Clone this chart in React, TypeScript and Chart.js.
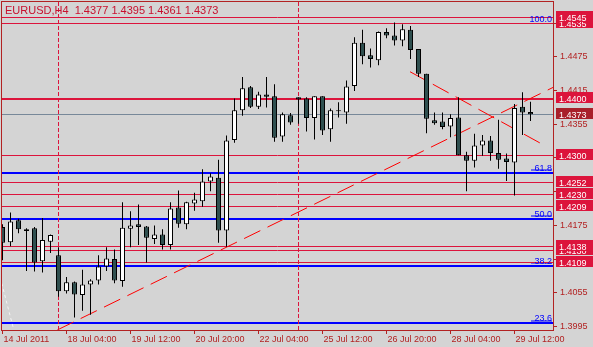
import { useEffect, useRef } from 'react';
import { Chart, registerables } from 'chart.js';

Chart.register(...registerables);

// ---- Data (EURUSD H4) ----
const OPEN = [
  1.4172, 1.4145, 1.4184, 1.4168, 1.4170, 1.4111, 1.4146, 1.4122, 1.4058, 1.4074,
  1.4051, 1.4070, 1.4077, 1.4102, 1.4115, 1.4076, 1.4169, 1.4177, 1.4173, 1.4151,
  1.4159, 1.4140, 1.4207, 1.4177, 1.4214, 1.4218, 1.4253, 1.4260, 1.4166, 1.4327,
  1.4380, 1.4421, 1.4386, 1.4408, 1.4405, 1.4333, 1.4371, 1.4403, 1.4401, 1.4366,
  1.4405, 1.4346, 1.4378, 1.4376, 1.4423, 1.4500, 1.4478, 1.4469, 1.4519, 1.4513,
  1.4504, 1.4523, 1.4489, 1.4445, 1.4362, 1.4360, 1.4351, 1.4367, 1.4300, 1.4290,
  1.4317, 1.4326, 1.4304, 1.4294, 1.4287, 1.4386, 1.4377,
];
const HIGH = [
  1.4177, 1.4198, 1.4187, 1.4170, 1.4172, 1.4188, 1.4159, 1.4136, 1.4083, 1.4075,
  1.4096, 1.4079, 1.4122, 1.4136, 1.4132, 1.4216, 1.4200, 1.4212, 1.4174, 1.4175,
  1.4168, 1.4216, 1.4237, 1.4217, 1.4233, 1.4275, 1.4268, 1.4292, 1.4335, 1.4401,
  1.4439, 1.4423, 1.4413, 1.4439, 1.4426, 1.4376, 1.4375, 1.4403, 1.4403, 1.4405,
  1.4405, 1.4383, 1.4394, 1.4433, 1.4510, 1.4523, 1.4490, 1.4520, 1.4526, 1.4536,
  1.4533, 1.4530, 1.4489, 1.4445, 1.4376, 1.4376, 1.4373, 1.4403, 1.4306, 1.4338,
  1.4336, 1.4334, 1.4363, 1.4303, 1.4391, 1.4412, 1.4395,
];
const LOW = [
  1.4113, 1.4138, 1.4161, 1.4094, 1.4093, 1.4091, 1.4126, 1.4048, 1.4054, 1.4011,
  1.4023, 1.4016, 1.4070, 1.4094, 1.4072, 1.4066, 1.4136, 1.4140, 1.4109, 1.4142,
  1.4132, 1.4132, 1.4171, 1.4168, 1.4201, 1.4208, 1.4236, 1.4144, 1.4137, 1.4322,
  1.4370, 1.4384, 1.4382, 1.4385, 1.4324, 1.4324, 1.4354, 1.4356, 1.4342, 1.4328,
  1.4336, 1.4324, 1.4367, 1.4356, 1.4414, 1.4462, 1.4456, 1.4460, 1.4508, 1.4495,
  1.4494, 1.4471, 1.4439, 1.4339, 1.4354, 1.4346, 1.4332, 1.4300, 1.4236, 1.4278,
  1.4299, 1.4290, 1.4276, 1.4254, 1.4228, 1.4336, 1.4361,
];
const CLOSE = [
  1.4144, 1.4182, 1.4168, 1.4165, 1.4109, 1.4149, 1.4158, 1.4058, 1.4074, 1.4052,
  1.4070, 1.4077, 1.4102, 1.4116, 1.4077, 1.4171, 1.4175, 1.4172, 1.4153, 1.4159,
  1.4140, 1.4205, 1.4178, 1.4216, 1.4221, 1.4253, 1.4262, 1.4166, 1.4326, 1.4380,
  1.4419, 1.4386, 1.4408, 1.4404, 1.4331, 1.4373, 1.4358, 1.4399, 1.4366, 1.4405,
  1.4344, 1.4380, 1.4378, 1.4422, 1.4500, 1.4476, 1.4471, 1.4519, 1.4513, 1.4504,
  1.4524, 1.4487, 1.4445, 1.4365, 1.4357, 1.4350, 1.4366, 1.4300, 1.4290, 1.4317,
  1.4326, 1.4304, 1.4292, 1.4288, 1.4384, 1.4376, 1.4373,
];

const X_TICK_INDEX = [0, 8, 16, 24, 32, 40, 48, 56, 64];
const X_TICK_LABELS = [
  '14 Jul 2011', '18 Jul 04:00', '19 Jul 12:00', '20 Jul 20:00', '22 Jul 04:00',
  '25 Jul 12:00', '26 Jul 20:00', '28 Jul 04:00', '29 Jul 12:00',
];
const Y_TICKS = [1.3995, 1.4055, 1.4115, 1.4175, 1.4235, 1.4295, 1.4355, 1.4415, 1.4475, 1.4535];

const RED_LEVELS = [1.4545, 1.4535, 1.4300, 1.4252, 1.4230, 1.4209, 1.4138, 1.4130, 1.4109];
const THICK_RED_LEVELS = [1.4400];
const FIB_NAMES = ['100.0', '61.8', '50.0', '38.2', '23.6'];
const FIB_LEVELS = [1.45343, 1.42683, 1.41864, 1.41028, 1.40013];
const PRICE_BOXES = [1.4535, 1.4545, 1.4400, 1.4300, 1.4252, 1.4230, 1.4209, 1.4130, 1.4138, 1.4109];
const V_LINES = [7, 37];
const UP_TREND = [[6.85, 1.39889], [68.85, 1.44208]];
const DOWN_TREND = [[50.94, 1.44485], [68.03, 1.43151]];
const WHITE_TREND = [[-0.1, 1.4072], [1.35, 1.39924]];

const X_MIN = -0.0625;
const X_MAX = 68.8125;
const Y_MIN = 1.398885;
const Y_MAX = 1.457436;

const BG = '#D4D4D4';
const AXIS = '#B22222';
const CRIMSON = '#DC143C';
const BLUE = '#0000FF';
const FONT = 'Liberation Sans';

const LAST = OPEN.length - 1;
const BID = CLOSE[LAST];
const TITLE = `EURUSD,H4  ${OPEN[LAST].toFixed(4)} ${HIGH[LAST].toFixed(4)} ${LOW[LAST].toFixed(4)} ${CLOSE[LAST].toFixed(4)}`;

const overlay = {
  id: 'overlay',
  beforeDraw(chart: any) {
    const { ctx, width, height } = chart;
    ctx.save();
    ctx.fillStyle = BG;
    ctx.fillRect(0, 0, width, height);
    ctx.restore();
  },
  beforeDatasetsDraw(chart: any) {
    const { ctx, chartArea: a, scales } = chart;
    const y = scales.y;
    ctx.save();
    ctx.beginPath();
    ctx.rect(a.left, a.top, a.right - a.left, a.bottom - a.top);
    ctx.clip();
    ctx.setLineDash([]);
    const hline = (p: number, color: string, w: number, x0 = a.left, x1 = a.right, dy = 0) => {
      const Y = y.getPixelForValue(p);
      const yy = (w % 2 ? Math.floor(Y) + 0.5 : Math.round(Y)) + dy;
      ctx.strokeStyle = color;
      ctx.lineWidth = w;
      ctx.beginPath();
      ctx.moveTo(x0, yy);
      ctx.lineTo(x1, yy);
      ctx.stroke();
    };
    FIB_LEVELS.forEach((p, i) => {
      hline(p, BLUE, i === 0 ? 1 : 2);
      if (i > 0) hline(p, BLUE, 1, a.right - 22, a.right - 1, -2.5);
    });
    RED_LEVELS.forEach((p) => hline(p, CRIMSON, 1));
    THICK_RED_LEVELS.forEach((p) => hline(p, CRIMSON, 2));
    hline(BID, '#778899', 1);
    ctx.restore();
  },
  afterDraw(chart: any) {
    const { ctx, chartArea: a, scales } = chart;
    const y = scales.y;
    ctx.save();
    // border
    ctx.strokeStyle = AXIS;
    ctx.lineWidth = 1;
    ctx.strokeRect(1.5, 1.5, a.right - 1, a.bottom - 1);
    // fib labels
    ctx.font = `9px "${FONT}"`;
    ctx.fillStyle = BLUE;
    ctx.textAlign = 'right';
    ctx.textBaseline = 'alphabetic';
    FIB_LEVELS.forEach((p, i) => {
      const Y = Math.round(y.getPixelForValue(p));
      ctx.fillText(FIB_NAMES[i], a.right - 1, Y - 2);
    });
    // price boxes
    ctx.textAlign = 'left';
    const box = (p: number, color: string) => {
      const row = Math.floor(y.getPixelForValue(p));
      ctx.fillStyle = color;
      ctx.fillRect(556, row - 6, 37, 11);
      ctx.fillStyle = '#FFFFFF';
      ctx.fillText(p.toFixed(4), 559, row + 3.5);
    };
    PRICE_BOXES.forEach((p) => box(p, CRIMSON));
    box(BID, '#A8202A');
    // title
    ctx.font = `11px "${FONT}"`;
    ctx.fillStyle = '#C8102E';
    ctx.textAlign = 'left';
    ctx.fillText(TITLE, 5, 13.5);
    ctx.restore();
  },
};

export default function App() {
  const ref = useRef<HTMLCanvasElement>(null);
  useEffect(() => {
    document.body.style.margin = '0';
    const canvas = ref.current;
    if (!canvas) return;
    const idx = OPEN.map((_, i) => i);
    const lineDs = (pts: number[][], color: string, dash: number[], width = 1) => ({
      type: 'line' as const,
      data: pts.map(([x, v]) => ({ x, y: v })),
      borderColor: color,
      borderWidth: width,
      borderDash: dash,
      pointRadius: 0,
      fill: false,
      tension: 0,
      order: 5,
      clip: 0,
    });
    const chart = new Chart(canvas, {
      type: 'bar',
      data: {
        datasets: [
          {
            type: 'bar',
            data: idx.map((i) => ({ x: i, y: [OPEN[i], CLOSE[i]] })) as any,
            backgroundColor: idx.map((i) => (CLOSE[i] >= OPEN[i] ? '#FFFFFF' : '#2F4F4F')),
            borderColor: '#000000',
            borderWidth: 1,
            borderSkipped: false,
            grouped: false,
            categoryPercentage: 1,
            barPercentage: 0.625,
            minBarLength: 1,
            inflateAmount: 0,
            order: 1,
          } as any,
          {
            type: 'bar',
            data: idx.map((i) => ({ x: i, y: [LOW[i], HIGH[i]] })) as any,
            backgroundColor: '#000000',
            borderWidth: 0,
            grouped: false,
            categoryPercentage: 1,
            barPercentage: 0.125,
            inflateAmount: 0,
            order: 2,
          } as any,
          ...V_LINES.map((v) => lineDs([[v, Y_MIN], [v, Y_MAX]], CRIMSON, [4, 2])),
          lineDs(UP_TREND, '#FF0000', [18, 8]),
          lineDs(DOWN_TREND, '#FF0000', [18, 8]),
          lineDs(WHITE_TREND, '#F4F4F4', [3, 3]),
        ] as any,
      },
      options: {
        responsive: false,
        animation: false,
        devicePixelRatio: 1,
        events: [],
        layout: { padding: { left: 2, top: 1, right: 0, bottom: 0 } },
        plugins: { legend: { display: false }, tooltip: { enabled: false } },
        scales: {
          x: {
            type: 'linear',
            min: X_MIN,
            max: X_MAX,
            offset: false,
            afterFit: (s: any) => {
              s.height = 17;
              s.paddingLeft = 0;
              s.paddingRight = 0;
            },
            afterBuildTicks: (s: any) => { s.ticks = X_TICK_INDEX.map((v) => ({ value: v })); },
            grid: { offset: false, drawOnChartArea: false, drawTicks: true, tickLength: 4, color: AXIS },
            border: { display: false },
            ticks: {
              autoSkip: false,
              maxRotation: 0,
              align: 'start',
              labelOffset: 1,
              padding: 0,
              color: AXIS,
              font: { family: FONT, size: 9 },
              callback: (_v: any, i: number) => X_TICK_LABELS[i],
            },
          },
          y: {
            type: 'linear',
            position: 'right',
            min: Y_MIN,
            max: Y_MAX,
            afterFit: (s: any) => {
              s.width = 40;
              s.paddingTop = 0;
              s.paddingBottom = 0;
            },
            afterBuildTicks: (s: any) => { s.ticks = Y_TICKS.map((v) => ({ value: v })); },
            grid: { drawOnChartArea: false, drawTicks: true, tickLength: 4, color: AXIS },
            border: { display: false },
            ticks: {
              autoSkip: false,
              padding: 3,
              color: AXIS,
              font: { family: FONT, size: 9 },
              callback: (v: any) => Number(v).toFixed(4),
            },
          },
        },
      } as any,
      plugins: [overlay],
    });
    return () => chart.destroy();
  }, []);
  return (
    <div style={{ position: 'fixed', left: 0, top: 0, width: 593, height: 347, background: BG }}>
      <canvas ref={ref} width={593} height={347} style={{ display: 'block', width: 593, height: 347 }} />
    </div>
  );
}
